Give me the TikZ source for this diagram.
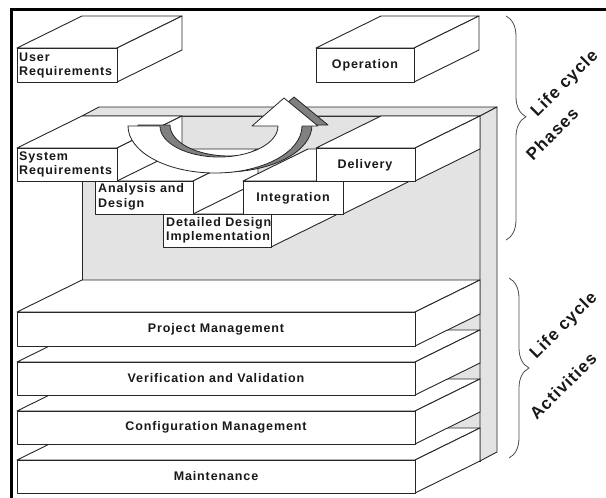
\documentclass[tikz,border=0pt]{standalone}
\usepackage{fontspec}
\newfontfamily\lblfont[LetterSpace=7]{Liberation Sans}
\usetikzlibrary{decorations.pathreplacing}
\definecolor{wallgray}{gray}{0.89}
\definecolor{shadegray}{gray}{0.5}
\tikzset{
  boxline/.style={draw=black!85, line width=0.9pt, line join=round, fill=white},
  wallface/.style={draw=black!85, line width=0.9pt, line join=round, fill=wallgray},
  lbl/.style={font=\lblfont\bfseries\fontsize{12.5}{14.5}\selectfont, inner sep=0pt, text=black!90},
  biglbl/.style={font=\lblfont\bfseries\fontsize{17}{20}\selectfont, inner sep=0pt, text=black!90},
  bracestyle/.style={draw=black!70, line width=0.8pt, decorate},
}
\newcommand\slabbox[4]{%
  \filldraw[boxline] (#1,#2) -- (#1+65,#2-32) -- (#3+65,#2-32) -- (#3,#2) -- cycle;
  \filldraw[boxline] (#3,#2) -- (#3+65,#2-32) -- (#3+65,#4-32) -- (#3,#4) -- cycle;
  \filldraw[boxline] (#1,#2) rectangle (#3,#4);
}
\newcommand\arrowband{(128,126) arc[start angle=180, end angle=0, x radius=87, y radius=47]
  -- (318,126) -- (284,98) -- (252,126) -- (278,126)
  arc[start angle=0, end angle=180, x radius=59, y radius=31] -- cycle}
\begin{document}
\begin{tikzpicture}[x=1pt,y=-1pt]
\useasboundingbox (0,0) rectangle (606,498);
% frame
\draw[line width=2.7pt] (11.3,498) -- (11.3,9.7) -- (606,9.7);
% top boxes
\slabbox{17}{48}{117}{82}
\node[lbl, anchor=west, align=left] (ur) at (19,65.5) {User\\Requirements};
\slabbox{316}{48}{414}{82}
\node[lbl] (op) at (365,65) {Operation};
% wall
\filldraw[wallface] (82,116) rectangle (480,461);
\filldraw[wallface] (82,116) -- (99,107) -- (497,107) -- (480,116) -- cycle;
\filldraw[wallface] (480,116) -- (497,107) -- (497,452) -- (480,461) -- cycle;
% activities
\slabbox{17}{460}{415}{493}
\node[lbl] (ma) at (216,476.5) {Maintenance};
\slabbox{17}{411}{415}{444}
\node[lbl] (cm) at (216,427.5) {Configuration Management};
\slabbox{17}{362}{415}{395}
\node[lbl] (vv) at (216,378.5) {Verification and Validation};
\slabbox{17}{312}{415}{346}
\node[lbl] (pm) at (216,329) {Project Management};
% steps
\slabbox{163}{214}{271}{247}
\node[lbl, anchor=west, align=left] (ddi) at (166,230.5) {Detailed Design\\Implementation};
\slabbox{95}{181}{193}{214}
\node[lbl, anchor=west, align=left] (ad) at (98,197) {Analysis and\\Design};
\slabbox{17}{148}{117}{181}
\node[lbl, anchor=west, align=left] (sr) at (19,164.5) {System\\Requirements};
\slabbox{243}{181}{343}{214}
\node[lbl] (int) at (293,198) {Integration};
\slabbox{316}{148}{415}{181}
\node[lbl] (del) at (365,165) {Delivery};
% arrow
\filldraw[fill=shadegray, draw=black!85, line width=0.8pt, line join=round, shift={(10,-1)}] \arrowband;
\filldraw[fill=white, draw=black!85, line width=0.8pt, line join=round] \arrowband;
% braces
\draw[bracestyle, decoration={brace, amplitude=20pt, aspect=0.45}] (506,16) -- (506,240);
\draw[bracestyle, decoration={brace, amplitude=20pt, aspect=0.5}] (509,278) -- (509,458);
\node[biglbl, rotate=45] (lc1) at (565,84) {Life cycle};
\node[biglbl, rotate=45] (ph) at (552,134) {Phases};
\node[biglbl, rotate=45] (lc2) at (564,326) {Life cycle};
\node[biglbl, rotate=45] (ac) at (563,386) {Activities};
\end{tikzpicture}
\end{document}
